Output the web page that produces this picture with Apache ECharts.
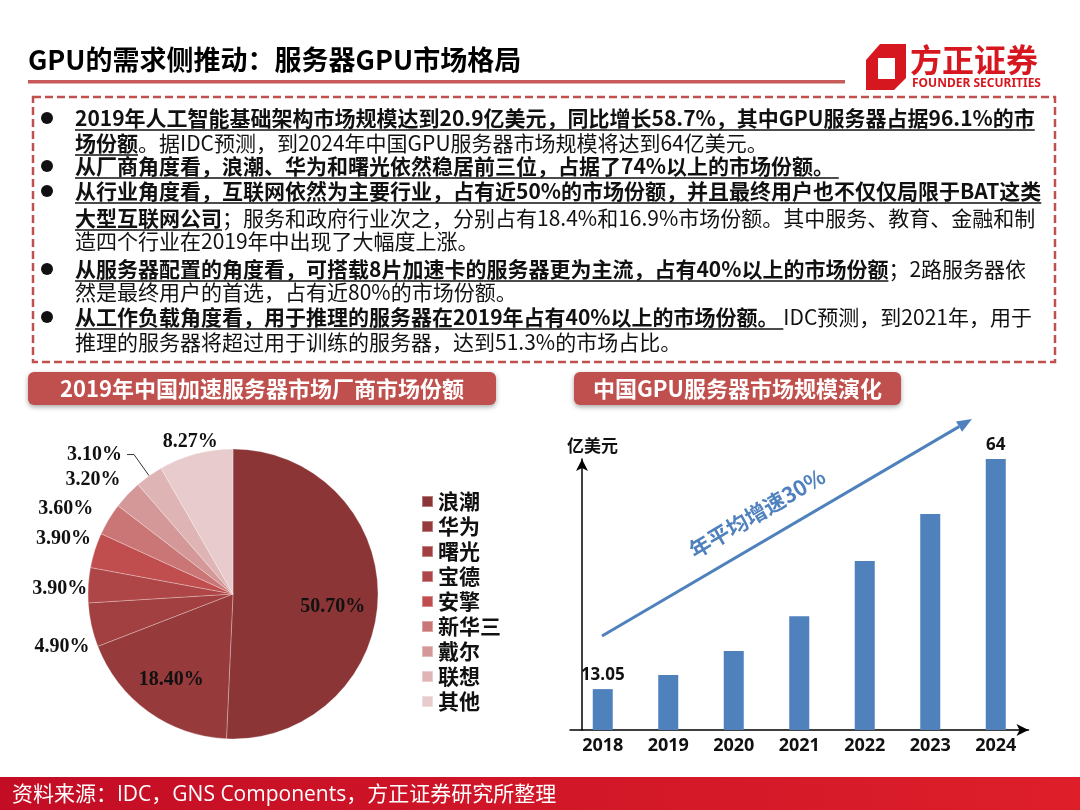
<!DOCTYPE html>
<html>
<head>
<meta charset="utf-8">
<script src="https://cdn.jsdelivr.net/npm/echarts@6/dist/echarts.min.js"></script>
<style>
html,body{margin:0;padding:0;background:#fff;}
#main{width:1080px;height:810px;}
</style>
</head>
<body>
<div id="main"></div>
<script>
// ---------- data ----------
const vendors = ['浪潮', '华为', '曙光', '宝德', '安擎', '新华三', '戴尔', '联想', '其他'];
const vendorShare = [50.7, 18.4, 4.9, 3.9, 3.9, 3.6, 3.2, 3.1, 8.27];
const years = ['2018', '2019', '2020', '2021', '2022', '2023', '2024'];
const marketSize = [13.05, 16.2, 21.5, 29.2, 41.4, 51.8, 64];
const labeledYears = ['2018', '2024'];

// ---------- styles ----------
const vendorColors = ['#8B3536', '#963A3B', '#A23F40', '#AE4546', '#C04E4F', '#CA7576', '#D59899', '#DFB4B5', '#E8CBCC'];
const CJK = '"Noto Sans CJK SC", sans-serif';
const pieCenter = [233, 594];
// small label nudges (px) to mimic the hand-placed labels of the original slide
const labelNudge = [[-6, 10], [0, 0], [9, 21], [10, 4], [7, -10], [-5, -8], [3, -12], [0, 0], [30, -8]];

const bodyLines = [
  {bullet: true, y: 118, segs: [[1, '2019年人工智能基础架构市场规模达到20.9亿美元，同比增长58.7%，其中GPU服务器占据96.1%的市']]},
  {bullet: false, y: 143, segs: [[1, '场份额'], [0, '。据IDC预测，到2024年中国GPU服务器市场规模将达到64亿美元。']]},
  {bullet: true, y: 166, segs: [[1, '从厂商角度看，浪潮、华为和曙光依然稳居前三位，占据了74%以上的市场份额。 ']]},
  {bullet: true, y: 191, segs: [[1, '从行业角度看，互联网依然为主要行业，占有近50%的市场份额，并且最终用户也不仅仅局限于BAT这类']]},
  {bullet: false, y: 218, segs: [[1, '大型互联网公司'], [0, '；服务和政府行业次之，分别占有18.4%和16.9%市场份额。其中服务、教育、金融和制']]},
  {bullet: false, y: 241, segs: [[0, '造四个行业在2019年中出现了大幅度上涨。']]},
  {bullet: true, y: 269, segs: [[1, '从服务器配置的角度看，可搭载8片加速卡的服务器更为主流，占有40%以上的市场份额'], [0, '；2路服务器依']]},
  {bullet: false, y: 292, segs: [[0, '然是最终用户的首选，占有近80%的市场份额。']]},
  {bullet: true, y: 317, segs: [[1, '从工作负载角度看，用于推理的服务器在2019年占有40%以上的市场份额。 '], [0, 'IDC预测，到2021年，用于']]},
  {bullet: false, y: 342, segs: [[0, '推理的服务器将超过用于训练的服务器，达到51.3%的市场占比。']]}
];

const measureCtx = document.createElement('canvas').getContext('2d');
function textWidth(str, weight, size, family) {
  measureCtx.font = weight + ' ' + size + 'px ' + family;
  return measureCtx.measureText(str).width;
}

function txt(x, y, text, o) {
  o = o || {};
  return {
    type: 'text', x: x, y: y, z: o.z || 10,
    rotation: o.rotation || 0,
    style: {
      text: text,
      fill: o.fill || '#111',
      fontSize: o.size || 16,
      fontWeight: o.weight || 'normal',
      fontFamily: o.family || CJK,
      align: o.align || 'left', textAlign: o.align || 'left',
      verticalAlign: 'middle', textVerticalAlign: 'middle'
    }
  };
}

const graphics = [];
// title
graphics.push(txt(28, 60, 'GPU的需求侧推动：服务器GPU市场格局', {size: 27, weight: 'bold', fill: '#000'}));
graphics.push({type: 'rect', shape: {x: 28, y: 80, width: 817, height: 3.5}, style: {fill: '#C55A59'}});
// logo
graphics.push({type: 'polygon', shape: {points: [[866, 60], [880, 44], [906, 44], [906, 78], [894, 90], [866, 90]]}, style: {fill: '#D7171F'}});
graphics.push({type: 'polygon', shape: {points: [[878, 58], [895, 58], [895, 79], [878, 79]]}, style: {fill: '#fff'}});
graphics.push(txt(910, 60, '方正证券', {size: 32, weight: 'bold', fill: '#D7171F'}));
graphics.push(txt(912, 84, 'FOUNDER SECURITIES', {size: 12, weight: 'bold', fill: '#D7171F', family: '"Noto Sans", sans-serif'}));

// dashed box
graphics.push({type: 'rect', shape: {x: 33, y: 97, width: 1022, height: 265}, style: {fill: 'none', stroke: '#C0504D', lineWidth: 2.5, lineDash: [8, 4]}});

// body text
const bodySize = 21;
bodyLines.forEach(function (ln) {
  if (ln.bullet) {
    graphics.push({type: 'circle', shape: {cx: 47, cy: ln.y, r: 6}, style: {fill: '#111'}});
  }
  let x = 75;
  ln.segs.forEach(function (s) {
    const w = s[0] ? 'bold' : 'normal';
    graphics.push(txt(x, ln.y, s[1], {size: bodySize, weight: w}));
    const wd = textWidth(s[1], w, bodySize, CJK);
    if (s[0]) {
      graphics.push({type: 'line', shape: {x1: x, y1: ln.y + 12, x2: x + wd, y2: ln.y + 12}, style: {stroke: '#111', lineWidth: 1.5}});
    }
    x += wd;
  });
});

// section headers
function header(x, w, text) {
  graphics.push({type: 'rect', shape: {x: x, y: 372, width: w, height: 33, r: 6},
    style: {fill: '#C0504D', shadowBlur: 5, shadowOffsetY: 2, shadowColor: 'rgba(0,0,0,0.35)'}});
  graphics.push(txt(x + w / 2, 388.5, text, {size: 22, weight: 'bold', fill: '#fff', align: 'center'}));
}
header(28, 468, '2019年中国加速服务器市场厂商市场份额');
header(574, 327, '中国GPU服务器市场规模演化');

// growth arrow annotation
(function () {
  const x1 = 602, y1 = 636, x2 = 972, y2 = 419;
  const ang = Math.atan2(y2 - y1, x2 - x1);
  const L = 15, H = 6;
  const bx = x2 - L * Math.cos(ang), by = y2 - L * Math.sin(ang);
  graphics.push({type: 'line', shape: {x1: x1, y1: y1, x2: bx, y2: by}, style: {stroke: '#4F81BD', lineWidth: 3}});
  graphics.push({type: 'polygon', shape: {points: [[x2, y2],
    [bx + H * Math.sin(ang), by - H * Math.cos(ang)],
    [bx - H * Math.sin(ang), by + H * Math.cos(ang)]]}, style: {fill: '#4F81BD'}});
  graphics.push(txt(757, 513, '年平均增速30%', {size: 21.5, weight: 'bold', fill: '#4F81BD', align: 'center', rotation: -ang}));
})();

// footer
graphics.push({type: 'rect', shape: {x: 0, y: 777, width: 1080, height: 33},
  style: {fill: new echarts.graphic.LinearGradient(0, 0, 1, 0, [{offset: 0, color: '#C30D25'}, {offset: 1, color: '#DE1F2A'}])}});
graphics.push(txt(12, 795, '资料来源：IDC，GNS Components，方正证券研究所整理', {size: 21, fill: '#fff', family: '"Open Sans", "Noto Sans CJK SC", sans-serif'}));

const chart = echarts.init(document.getElementById('main'), null, {renderer: 'canvas'});
const pieData = vendors.map(function (n, i) {
  const d = {name: n, value: vendorShare[i], itemStyle: {color: vendorColors[i]}};
  if (i < 2) d.label = {position: 'inside'};
  if (n === '联想') d.labelLine = {show: true, length: 26, length2: 7, lineStyle: {color: '#333', width: 1}};
  return d;
});

chart.setOption({
  animation: false,
  backgroundColor: '#fff',
  graphic: {elements: graphics},
  legend: {
    orient: 'vertical', left: 416, top: 486,
    icon: 'rect', itemWidth: 11, itemHeight: 11, itemGap: 4,
    textStyle: {fontSize: 21, lineHeight: 21, fontWeight: 'bold', color: '#111', fontFamily: CJK},
    data: vendors
  },
  grid: {left: 570, right: 51.5, top: 459, bottom: 80},
  xAxis: {
    type: 'category', data: years,
    axisLine: {show: true, symbol: ['none', 'arrow'], symbolSize: [9, 12], lineStyle: {color: '#000', width: 1.5}},
    axisTick: {show: false},
    axisLabel: {fontSize: 18, fontWeight: 'bold', color: '#111', margin: 7, fontFamily: '"Open Sans", sans-serif'}
  },
  yAxis: {
    type: 'value', min: 4, max: 64, offset: -12,
    name: '亿美元', nameLocation: 'end', nameGap: 5,
    nameTextStyle: {fontSize: 17, fontWeight: 'bold', color: '#111', fontFamily: CJK, align: 'left', padding: [0, 0, 0, -15]},
    axisLine: {show: true, symbol: ['none', 'arrow'], symbolSize: [9, 12], lineStyle: {color: '#000', width: 1.5}},
    axisTick: {show: false}, axisLabel: {show: false}, splitLine: {show: false}
  },
  series: [
    {
      type: 'pie', center: pieCenter, radius: 145, startAngle: 90, clockwise: true,
      avoidLabelOverlap: false,
      itemStyle: {borderColor: 'rgba(255,255,255,0.35)', borderWidth: 0.8},
      label: {
        show: true, position: 'outside',
        formatter: function (p) { return p.value.toFixed(2) + '%'; },
        fontFamily: '"Liberation Serif", serif', fontWeight: 'bold', fontSize: 20, color: '#111'
      },
      labelLine: {show: false, length: 4, length2: 2},
      labelLayout: function (params) {
        const i = params.dataIndex;
        const nd = labelNudge[i] || [0, 0];
        if (i < 2) {
          const r = params.labelRect;
          const cx = r.x + r.width / 2, cy = r.y + r.height / 2;
          return {dx: (cx - pieCenter[0]) * 0.4 + nd[0], dy: (cy - pieCenter[1]) * 0.4 + nd[1]};
        }
        return {dx: nd[0], dy: nd[1]};
      },
      data: pieData
    },
    {
      type: 'bar', barWidth: 20,
      itemStyle: {color: '#4F81BD'},
      label: {
        show: true, position: 'top', distance: 5,
        fontSize: 17, fontWeight: 'bold', color: '#111', fontFamily: '"Open Sans", sans-serif',
        formatter: function (p) { return labeledYears.indexOf(p.name) >= 0 ? String(p.value) : ''; }
      },
      data: marketSize
    }
  ]
});
</script>
</body>
</html>
